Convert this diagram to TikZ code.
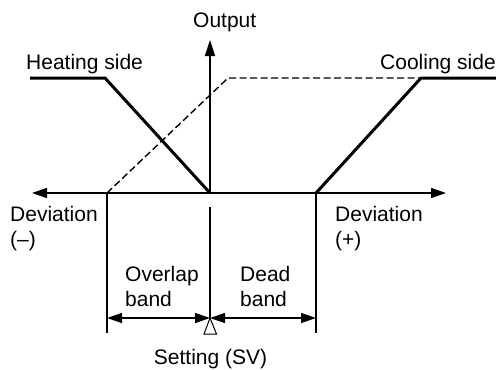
\documentclass[tikz,border=0pt]{standalone}
\usepackage{fontspec}
\setmainfont{Liberation Sans}
\usetikzlibrary{arrows.meta, positioning}

\begin{document}
\begin{tikzpicture}[
    x=1bp, y=1bp,
    txt/.style={inner sep=0pt, font=\fontsize{21bp}{25.5bp}\selectfont, align=left},
    axis/.style={line width=1.5bp},
    tip/.style={Triangle[length=15bp, width=10bp]},
    curve/.style={line width=3bp, line join=miter},
    guide/.style={line width=1.4bp, dash pattern=on 7bp off 3.5bp},
    dim/.style={{Triangle[length=15bp, width=10bp]}-{Triangle[length=15bp, width=10bp]}, line width=1.4bp}
]
    \useasboundingbox (0,0) rectangle (496,369);

    % Axes
    \coordinate (xmin) at (32,176);
    \coordinate (xmax) at (446,176);
    \coordinate (sv) at (210,176);
    \coordinate (ytop) at (210,329);
    \draw[axis, {Triangle[length=15bp, width=10bp]}-{Triangle[length=15bp, width=10bp]}] (xmin) -- (xmax);
    \draw[axis, -{Triangle[length=16bp, width=10bp]}] (sv) -- (ytop);

    % Heating side
    \coordinate (h0) at (30,291);
    \coordinate (h1) at (105,291);
    \draw[curve] (h0) -- (h1) -- (sv);

    % Cooling side
    \coordinate (c0) at (316,176);
    \coordinate (c1) at (421,291);
    \coordinate (c2) at (496,291);
    \draw[curve] (c0) -- (c1) -- (c2);

    % Shifted cooling (dashed)
    \coordinate (d0) at (107,176);
    \coordinate (d1) at (228,291);
    \draw[guide] (d0) -- (d1) -- (c1);

    % Band limits
    \coordinate (ol) at (107,36);
    \coordinate (dr) at (316,36);
    \coordinate (svtop) at (210,162);
    \coordinate (svbot) at (210,51);
    \draw[axis] (d0) -- (ol);
    \draw[axis] (c0) -- (dr);
    \draw[axis] (svtop) -- (svbot);

    % Bands
    \coordinate (bl) at (107,51);
    \coordinate (br) at (316,51);
    \draw[dim] (bl) -- (svbot);
    \draw[dim] (svbot) -- (br);
    \draw[line width=1bp, fill=white] (svbot) -- (204,35) -- (216.5,35) -- cycle;

    % Labels
    \node[txt, anchor=base west] (output) at (193,342) {Output};
    \node[txt, anchor=base west] (heat) at (26,300) {Heating side};
    \node[txt, anchor=base west] (cool) at (380,300) {Cooling side};
    \node[txt, anchor=north west] (devneg) at (10,163) {Deviation\\(--)};
    \node[txt, anchor=north west] (devpos) at (335,163) {Deviation\\(+)};
    \node[txt, anchor=north west] (overlap) at (125,103) {Overlap\\band};
    \node[txt, anchor=north west] (dead) at (240,103) {Dead\\band};
    \node[txt, anchor=base] (setting) at (210.5,5) {Setting (SV)};

\end{tikzpicture}
\end{document}
